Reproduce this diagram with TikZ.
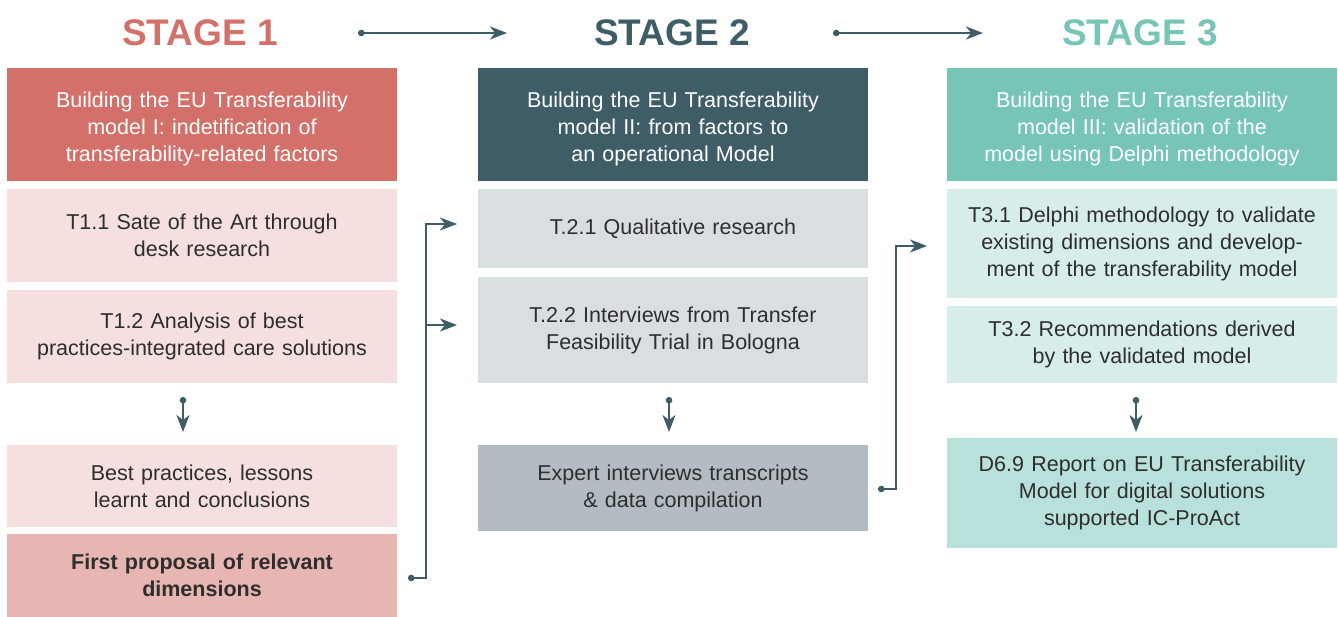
\documentclass[tikz,border=0pt]{standalone}
\usepackage{fontspec}
\setmainfont{Liberation Sans}
\usetikzlibrary{positioning}
\usetikzlibrary{arrows.meta}
\definecolor{rose}{HTML}{D4706A}
\definecolor{roselight}{HTML}{F5E0DF}
\definecolor{rosemid}{HTML}{E8B6B2}
\definecolor{slate}{HTML}{3F5D66}
\definecolor{slatelight}{HTML}{D9DFE1}
\definecolor{slatemid}{HTML}{B3BCC2}
\definecolor{mint}{HTML}{76C5B7}
\definecolor{mintlight}{HTML}{D6EDE9}
\definecolor{mintmid}{HTML}{B8E1DC}
\definecolor{ink}{HTML}{2E2E2E}

\begin{document}
\begin{tikzpicture}[
  x=1pt, y=-1pt,
  node distance=8pt,
  box/.style = {anchor=north west, minimum width=390pt, inner sep=0pt, outer sep=0pt,
    text width=386pt, align=center, text=ink, font=\fontsize{21.5}{27}\selectfont},
  head/.style = {box, minimum height=113pt, text=white,
    execute at begin node={\rule{0pt}{23.5pt}}},
  stagetitle/.style = {font=\fontsize{37}{37}\selectfont\bfseries},
  link/.style = {line width=1.8pt, color=slate},
  flow/.style = {link, {Circle[length=6.5pt,width=6.5pt]}-{Stealth[length=17pt,width=13pt,inset=5pt]}},
  branch/.style = {link, -{Stealth[length=17pt,width=13pt,inset=5pt]}},
]

  \useasboundingbox (0,0) rectangle (1338,617);

  \node[stagetitle, text=rose] (s1) at (200,33) {STAGE 1};
  \node[stagetitle, text=slate] (s2) at (672,33) {STAGE 2};
  \node[stagetitle, text=mint] (s3) at (1140,33) {STAGE 3};

  \coordinate (a1) at (358,33);
  \coordinate (a2) at (507,33);
  \coordinate (a3) at (833,33);
  \coordinate (a4) at (983,33);

  % stage 1
  \node[head, fill=rose] (h1) at (7,68)
    {Building the EU Transferability\\model I: indetification of\\transferability-related factors};
  \node[box, fill=roselight, minimum height=93pt, below=of h1] (t11)
    {T1.1 Sate of the Art through\\desk research};
  \node[box, fill=roselight, minimum height=93pt, below=of t11] (t12)
    {T1.2 Analysis of best\\practices-integrated care solutions};
  \node[box, fill=roselight, minimum height=82pt, below=62pt of t12] (bp)
    {Best practices, lessons\\learnt and conclusions};
  \node[box, fill=rosemid, minimum height=83pt, below=7pt of bp] (fp)
    {\bfseries First proposal of relevant\\dimensions};

  % stage 2
  \node[head, fill=slate] (h2) at (478,68)
    {Building the EU Transferability\\model II: from factors to\\an operational Model};
  \node[box, fill=slatelight, minimum height=79pt, below=of h2] (t21)
    {T.2.1 Qualitative research};
  \node[box, fill=slatelight, minimum height=106pt, below=9pt of t21] (t22)
    {T.2.2 Interviews from Transfer\\Feasibility Trial in Bologna};
  \node[box, fill=slatemid, minimum height=86pt, below=62pt of t22] (ex)
    {Expert interviews transcripts\\\& data compilation};

  % stage 3
  \node[head, fill=mint] (h3) at (947,68)
    {Building the EU Transferability\\model III: validation of the\\model using Delphi methodology};
  \node[box, fill=mintlight, minimum height=109pt, below=of h3] (t31)
    {T3.1 Delphi methodology to validate\\existing dimensions and develop-\\ment of the transferability model};
  \node[box, fill=mintlight, minimum height=77pt, below=of t31] (t32)
    {T3.2 Recommendations derived\\by the validated model};
  \node[box, fill=mintmid, minimum height=110pt, below=55pt of t32] (d69)
    {D6.9 Report on EU Transferability\\Model for digital solutions\\supported IC-ProAct};

  \draw[flow] (a1) -- (a2);
  \draw[flow] (a3) -- (a4);

  \draw[flow] ([xshift=-19pt,yshift=-14pt]t12.south) -- ([xshift=-19pt,yshift=13pt]bp.north);
  \draw[flow] ([xshift=-4pt,yshift=-14pt]t22.south) -- ([xshift=-4pt,yshift=13pt]ex.north);
  \draw[flow] ([xshift=-6pt,yshift=-14pt]t32.south) -- ([xshift=-6pt,yshift=6pt]d69.north);

  \draw[flow] ([xshift=11pt,yshift=-2.5pt]fp.east) -| ([xshift=-52pt,yshift=4.5pt]t21.west)
    -- ([xshift=-21pt,yshift=4.5pt]t21.west);
  \draw[branch] ([xshift=-52pt,yshift=5pt]t22.west) -- ([xshift=-21pt,yshift=5pt]t22.west);
  \draw[flow] ([xshift=10pt,yshift=-1pt]ex.east) -| ([xshift=-51pt,yshift=-2.5pt]t31.west)
    -- ([xshift=-20pt,yshift=-2.5pt]t31.west);

\end{tikzpicture}
\end{document}
